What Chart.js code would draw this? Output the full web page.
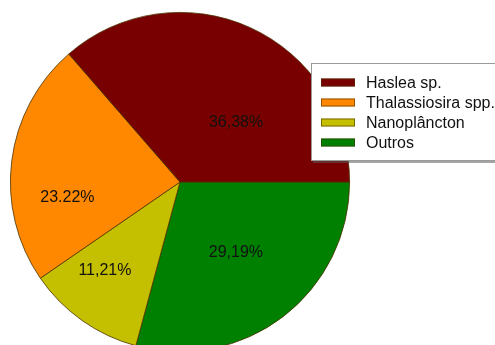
<!DOCTYPE html>
<html>
<head>
<meta charset="utf-8">
<script src="https://cdn.jsdelivr.net/npm/chart.js@4/dist/chart.umd.min.js"></script>
<style>
  html, body { margin: 0; padding: 0; background: #fff; overflow: hidden; }
  #wrap { position: relative; width: 495px; height: 345px; overflow: hidden; }
  canvas { position: absolute; left: 0; top: 0; }
</style>
</head>
<body>
<div id="wrap"><canvas id="c" width="495" height="360"></canvas></div>
<script>
// Composition of the phytoplankton community
const categories = ['Haslea sp.', 'Thalassiosira spp.', 'Nanoplâncton', 'Outros'];
const shares = [36.38, 23.22, 11.21, 29.19];
const shareLabels = ['36,38%', '23.22%', '11,21%', '29,19%'];
const colors = ['#780000', '#ff8800', '#c4c000', '#008000'];

// Where each percentage sits inside its slice: fraction of the radius and angular nudge (deg, clockwise)
const labelRadius = [0.48, 0.67, 0.685, 0.53];
const labelNudge = [19, -15, 5, -1];

const FONT = '"Liberation Sans", Arial, sans-serif';

// Slices run counter-clockwise from 3 o'clock, so feed Chart.js (clockwise) the reversed order
const order = categories.map((_, i) => i).reverse();

const sliceLabels = {
  id: 'sliceLabels',
  afterDatasetsDraw(chart) {
    const ctx = chart.ctx;
    const meta = chart.getDatasetMeta(0);
    ctx.save();
    ctx.font = '16px ' + FONT;
    ctx.fillStyle = '#111';
    ctx.textAlign = 'center';
    ctx.textBaseline = 'middle';
    meta.data.forEach((arc, j) => {
      const i = order[j];
      const p = arc.getProps(['x', 'y', 'startAngle', 'endAngle', 'outerRadius'], true);
      const mid = (p.startAngle + p.endAngle) / 2 + labelNudge[i] * Math.PI / 180;
      const r = p.outerRadius * labelRadius[i];
      ctx.fillText(shareLabels[i], p.x + Math.cos(mid) * r, p.y + Math.sin(mid) * r);
    });
    ctx.restore();
  }
};

const boxLegend = {
  id: 'boxLegend',
  afterDraw(chart) {
    const ctx = chart.ctx;
    const x0 = 311, y0 = 63, w = 200, h = 97;
    ctx.save();
    // shadow
    ctx.fillStyle = 'rgba(90,90,90,0.55)';
    ctx.fillRect(x0 + 2, y0 + 3, w, h);
    ctx.fillStyle = '#fff';
    ctx.fillRect(x0, y0, w, h);
    ctx.strokeStyle = '#9a9a9a';
    ctx.lineWidth = 1;
    ctx.strokeRect(x0 + 0.5, y0 + 0.5, w, h);
    ctx.font = '16px ' + FONT;
    ctx.textBaseline = 'middle';
    ctx.textAlign = 'left';
    categories.forEach((name, i) => {
      const cy = 83 + i * 20;
      ctx.fillStyle = colors[i];
      ctx.fillRect(321, cy - 4.5, 34, 8);
      ctx.strokeStyle = 'rgba(70,50,0,0.6)';
      ctx.strokeRect(321.5, cy - 4, 33, 7);
      ctx.fillStyle = '#111';
      ctx.fillText(name, 366, cy + 0.5);
    });
    ctx.restore();
  }
};

new Chart(document.getElementById('c'), {
  type: 'pie',
  data: {
    labels: order.map(i => categories[i]),
    datasets: [{
      data: order.map(i => shares[i]),
      backgroundColor: order.map(i => colors[i]),
      borderColor: '#4a3200',
      borderWidth: 0.8
    }]
  },
  options: {
    responsive: false,
    animation: false,
    devicePixelRatio: 1,
    rotation: 90,
    layout: { padding: { left: 10, top: 12, right: 145, bottom: 8 } },
    plugins: {
      legend: { display: false },
      tooltip: { enabled: false }
    }
  },
  plugins: [sliceLabels, boxLegend]
});
</script>
</body>
</html>
